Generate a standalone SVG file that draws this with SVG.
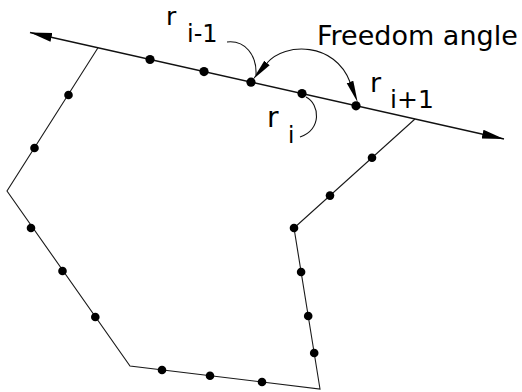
<svg xmlns="http://www.w3.org/2000/svg" width="522" height="392" viewBox="0 0 522 392">
<style>
.ln{fill:none;stroke:#1a1a1a;stroke-width:1.1}
.main{fill:none;stroke:#111;stroke-width:1.4}
.arc{fill:none;stroke:#111;stroke-width:1.1}
.dot{fill:#000}
text{font-family:"DejaVu Sans","Verdana",sans-serif;fill:#000}
</style>
<defs>
<marker id="bigArrow" markerUnits="userSpaceOnUse" markerWidth="24" markerHeight="12" viewBox="0 -5 24 10" refX="22" refY="0" orient="auto-start-reverse">
<path d="M0,-4.5 L22,0 L0,4.5 z" fill="#000"/>
</marker>
<marker id="thinArrow" markerUnits="userSpaceOnUse" markerWidth="24" markerHeight="10" viewBox="0 -4 24 8" refX="0" refY="0" orient="auto-start-reverse">
<path d="M0,-3.5 L22,0 L0,3.5 z" fill="#000"/>
</marker>
</defs>
<g id="connectors">
<line class="main" x1="30" y1="32.5" x2="504" y2="139" marker-start="url(#bigArrow)" marker-end="url(#bigArrow)"/>
<polyline class="ln" points="98,47.8 7,191 130,366 320,389 294,228 415,119"/>
<path class="arc" d="M267,63 C285,42 335,42 350,82" marker-start="url(#thinArrow)" marker-end="url(#thinArrow)"/>
<path class="arc" d="M227,42 C245,40 257,55 256,75"/>
<path class="arc" d="M306,97 C320,104 322,130 300,137"/>
</g>
<g id="line-points">
<circle class="dot" cx="150" cy="59.5" r="4.6"/>
<circle class="dot" cx="204" cy="71.6" r="4.6"/>
<circle class="dot" cx="251" cy="82.2" r="4.6"/>
<circle class="dot" cx="302" cy="93.6" r="4.6"/>
<circle class="dot" cx="356" cy="105.8" r="4.6"/>
</g>
<g id="polygon-points">
<circle class="dot" cx="68.5" cy="95" r="4.3"/>
<circle class="dot" cx="34.5" cy="148" r="4.3"/>
<circle class="dot" cx="31" cy="228" r="4.3"/>
<circle class="dot" cx="62.5" cy="271" r="4.3"/>
<circle class="dot" cx="95.3" cy="317" r="4.3"/>
<circle class="dot" cx="162" cy="370" r="4.3"/>
<circle class="dot" cx="210" cy="375.8" r="4.3"/>
<circle class="dot" cx="262" cy="382" r="4.3"/>
<circle class="dot" cx="314.2" cy="353" r="4.3"/>
<circle class="dot" cx="308.2" cy="316" r="4.3"/>
<circle class="dot" cx="301.1" cy="272" r="4.3"/>
<circle class="dot" cx="294" cy="228" r="4.3"/>
<circle class="dot" cx="330" cy="195.6" r="4.3"/>
<circle class="dot" cx="372" cy="157.7" r="4.3"/>
</g>
<g id="label-r-im1">
<text x="166" y="25" font-size="25">r</text>
<text x="187" y="42" font-size="24">i-1</text>
</g>
<g id="label-r-i">
<text x="267" y="127" font-size="28">r</text>
<text x="288" y="143" font-size="23">i</text>
</g>
<g id="label-r-ip1">
<text x="370" y="92" font-size="27">r</text>
<text x="390" y="108" font-size="25">i+1</text>
</g>
<g id="label-freedom">
<text x="317" y="45" font-size="27">Freedom angle</text>
</g>
</svg>
